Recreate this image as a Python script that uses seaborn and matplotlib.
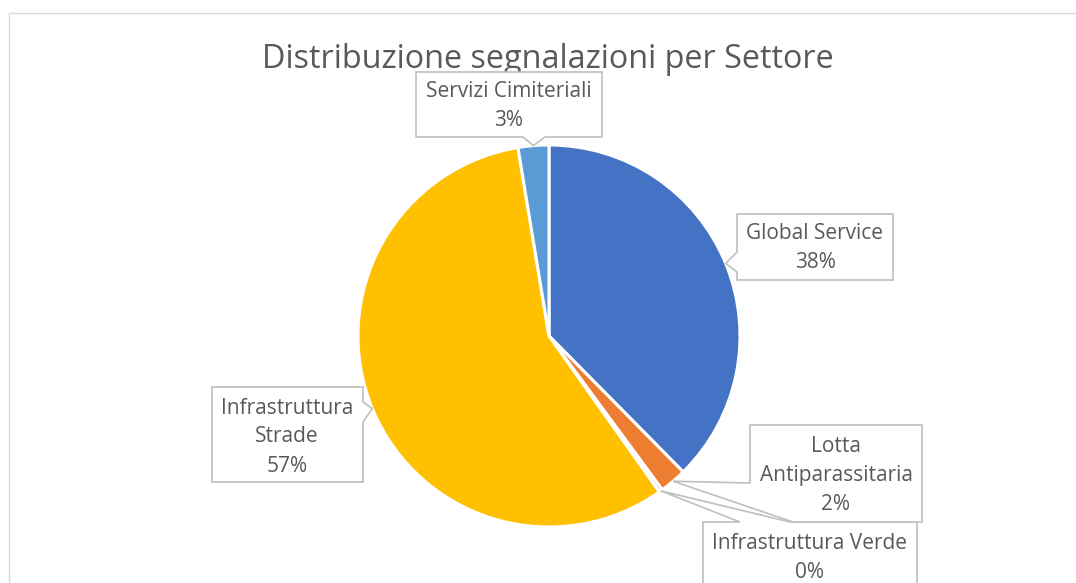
import numpy as np
import matplotlib.pyplot as plt
from matplotlib.patches import Polygon, Rectangle
import seaborn as sns

# data
settori = ['Global Service', 'Lotta\nAntiparassitaria', 'Infrastruttura Verde',
           'Infrastruttura\nStrade', 'Servizi Cimiteriali']
segnalazioni = [376, 23, 3, 572, 26]
colori = ['#4472C4', '#ED7D31', '#A5A5A5', '#FFC000', '#5B9BD5']
titolo = 'Distribuzione segnalazioni per Settore'

W, H = 1076, 583
sns.set_theme(style='white')
plt.rcParams['font.family'] = ['Open Sans', 'DejaVu Sans']
GRIGIO = '#595959'

fig = plt.figure(figsize=(W / 100, H / 100), dpi=100)
ax = fig.add_axes([0, 0, 1, 1])

# pie in pixel coords (y up)
cx, cy, r = 549, H - 336, 191
wedges, _ = ax.pie(segnalazioni, colors=colori, startangle=90, counterclock=False,
                   center=(cx, cy), radius=r,
                   wedgeprops=dict(edgecolor='white', linewidth=2.2))
ax.set_xlim(0, W)
ax.set_ylim(0, H)
ax.set_aspect('equal')
ax.set_axis_off()

# chart frame
ax.add_patch(Rectangle((9, -10), W, H - 13 + 10, fill=False, ec='#D9D9D9', lw=1))

ax.text(548, H - 59, titolo, ha='center', va='center', fontsize=23.3, color=GRIGIO)

# callout shapes (pixel coords, top-down); None = tip on the slice
callouts = [
    ([(737, 214), (893, 214), (893, 280), (737, 280), (737, 272), None, (737, 252)], (815, 248)),
    ([(750, 425), (922, 425), (922, 522), (793, 522), None, (750, 483)], (836, 475)),
    ([(703, 522), (740, 522), None, (790, 522), (917, 522), (917, 600), (703, 600)], (810, 558)),
    ([(212, 387), (363, 387), (363, 402), None, (363, 422), (363, 482), (212, 482)], (287, 437)),
    ([(416, 72), (602, 72), (602, 137), (545, 137), None, (523, 137), (416, 137)], (509, 106)),
]

pct = np.array(segnalazioni) / np.sum(segnalazioni) * 100
order = [2, 0, 1, 3, 4]  # draw Verde before Lotta so Lotta box sits on top
for i in order:
    w = wedges[i]
    ang = np.deg2rad((w.theta1 + w.theta2) / 2)
    tip = (cx + r * np.cos(ang), cy + r * np.sin(ang))
    pts, (tx, ty) = callouts[i]
    poly = [tip if p is None else (p[0], H - p[1]) for p in pts]
    ax.add_patch(Polygon(poly, closed=True, fc='white', ec='#BFBFBF', lw=1.2, zorder=3))
    ax.text(tx, H - ty, f'{settori[i]}\n{pct[i]:.0f}%', ha='center', va='center',
            fontsize=15, color=GRIGIO, linespacing=1.5, zorder=4)

fig.savefig('out.png', dpi=100, facecolor='white')
